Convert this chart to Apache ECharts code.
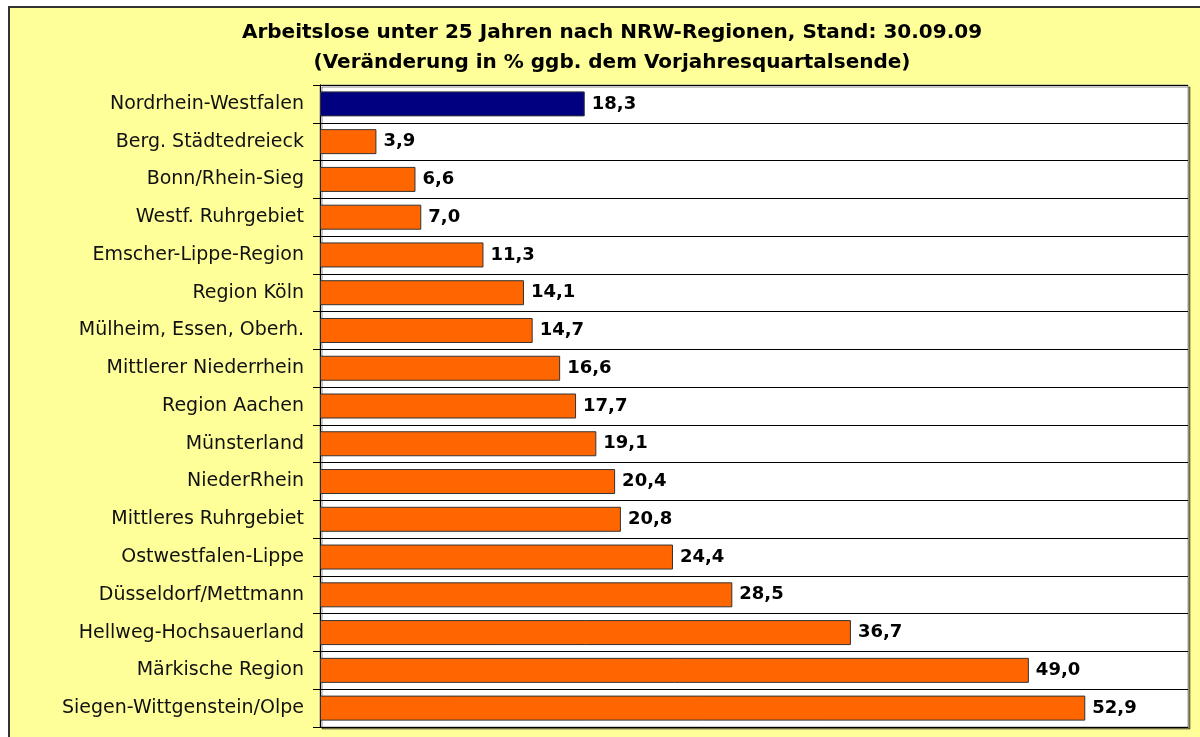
<!DOCTYPE html>
<html>
<head>
<meta charset="utf-8">
<script src="https://cdn.jsdelivr.net/npm/echarts@6/dist/echarts.min.js"></script>
<style>
html,body{margin:0;padding:0;background:#fff;width:1200px;height:737px;overflow:hidden;}
#frame{position:absolute;left:8px;top:6px;width:1192px;height:731px;background:#FFFF99;border-left:2px solid #333;border-top:2px solid #333;box-sizing:border-box;}
#chart{position:absolute;left:0;top:0;width:1200px;height:737px;}
</style>
</head>
<body>
<div id="frame"></div>
<div id="chart"></div>
<script>
const titleLines = ["Arbeitslose unter 25 Jahren nach NRW-Regionen, Stand: 30.09.09", "(Veränderung in % ggb. dem Vorjahresquartalsende)"];
const categories = ["Nordrhein-Westfalen","Berg. Städtedreieck","Bonn/Rhein-Sieg","Westf. Ruhrgebiet","Emscher-Lippe-Region","Region Köln","Mülheim, Essen, Oberh.","Mittlerer Niederrhein","Region Aachen","Münsterland","NiederRhein","Mittleres Ruhrgebiet","Ostwestfalen-Lippe","Düsseldorf/Mettmann","Hellweg-Hochsauerland","Märkische Region","Siegen-Wittgenstein/Olpe"];
const values = [18.3,3.9,6.6,7.0,11.3,14.1,14.7,16.6,17.7,19.1,20.4,20.8,24.4,28.5,36.7,49.0,52.9];
const highlightIndex = 0;

const chart = echarts.init(document.getElementById('chart'), null, {renderer:'canvas'});
const font = '"DejaVu Sans", sans-serif';
chart.setOption({
  backgroundColor: 'transparent',
  animation: false,
  title: {
    text: titleLines.join('\n'),
    left: 607, top: 13, textAlign: 'center',
    textStyle: {fontFamily: font, fontSize: 20, fontWeight: 'bold', color: '#000', lineHeight: 30}
  },
  grid: {
    left: 320, top: 85, width: 868, height: 642,
    show: true, backgroundColor: '#fff', borderColor: '#999', borderWidth: 1,
    shadowColor: 'rgba(0,0,0,0.45)', shadowOffsetX: 2, shadowOffsetY: 2, shadowBlur: 0
  },
  xAxis: {type: 'value', min: 0, max: 60, show: false},
  yAxis: {
    type: 'category', data: categories, inverse: true,
    axisLine: {show: true, lineStyle: {color: '#000', width: 1}},
    axisTick: {show: true, length: 7, lineStyle: {color: '#000'}},
    splitLine: {show: true, lineStyle: {color: '#000', width: 1}},
    axisLabel: {fontFamily: font, fontSize: 19, color: '#111', margin: 16}
  },
  series: [{
    type: 'bar', barWidth: 25,
    data: values.map((v, i) => ({value: v, itemStyle: {color: i === highlightIndex ? '#000080' : '#FF6600'}})),
    itemStyle: {borderColor: '#333', borderWidth: 1},
    label: {show: true, position: 'right', distance: 7, fontFamily: font, fontSize: 18, fontWeight: 'bold', color: '#000',
      formatter: p => p.value.toFixed(1).replace('.', ',')}
  }]
});
</script>
</body>
</html>
